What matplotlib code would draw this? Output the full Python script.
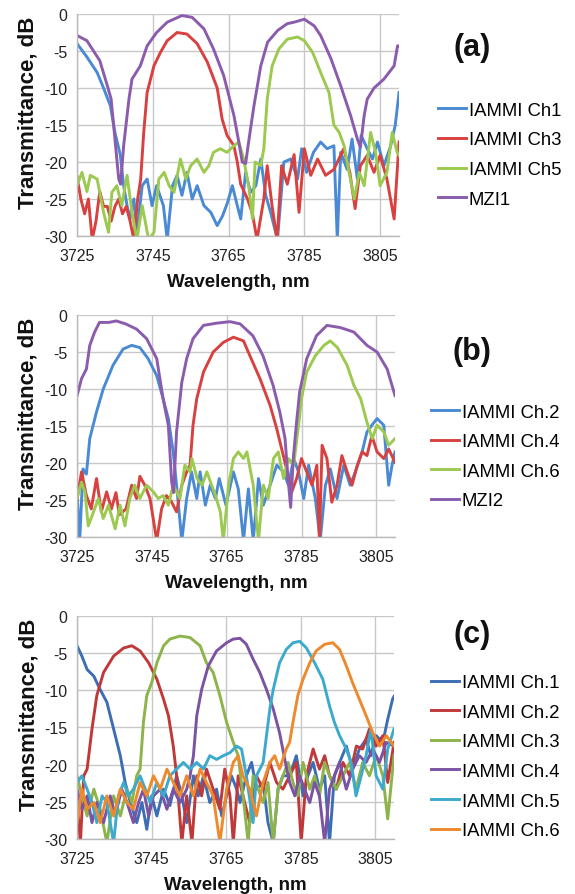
import matplotlib
matplotlib.use("Agg")
import matplotlib.pyplot as plt

plt.rcParams['font.family'] = ['Liberation Sans', 'DejaVu Sans']
plt.rcParams['axes.unicode_minus'] = False

# ---------------- Panel (a) ----------------
a_ch1_x = [3725, 3727.6, 3730.3, 3732, 3733.8, 3735, 3736.4, 3737.3, 3738.2, 3739, 3740, 3740.8, 3742.2, 3743.5, 3744.8, 3746, 3747.8, 3748.8, 3750.2, 3751.4, 3752.7, 3754, 3755.4, 3756.7, 3758.5, 3760.3, 3762, 3763.4, 3764.7, 3766, 3767.3, 3768.2, 3769.5, 3770.8, 3772.2, 3773.5, 3774.8, 3776.1, 3777.9, 3779.6, 3781.4, 3783.2, 3784.3, 3785.6, 3787.4, 3789.3, 3791, 3792.8, 3793.7, 3794.6, 3796.3, 3797.6, 3799, 3800, 3801.6, 3803, 3804.3, 3806, 3807.8, 3809, 3810]
a_ch1_y = [-4, -5.8, -7.9, -10, -12.4, -16, -19, -23.2, -25.9, -27.7, -25, -29.5, -23.2, -22.3, -25.9, -23.2, -25.9, -30.5, -23.2, -21.8, -24.5, -21.4, -25, -23.2, -25.9, -26.8, -28.6, -27.3, -25.5, -23.2, -25.9, -27.7, -21.4, -24.1, -23.2, -19.6, -24.5, -26.8, -30.5, -20, -19.6, -22.3, -18.2, -21.4, -18.7, -17.3, -18.2, -17.8, -30.5, -18.7, -21, -16.9, -22.3, -16.4, -18.2, -19.6, -17.3, -20.5, -17.8, -15, -10.6]

a_ch3_x = [3725, 3726, 3727, 3728, 3729, 3730, 3731, 3732, 3733, 3734, 3735, 3736, 3737, 3738, 3739, 3740, 3741, 3741.8, 3742.6, 3743.5, 3745.3, 3747, 3748.8, 3751.4, 3754, 3756.7, 3759.4, 3762, 3763.3, 3764.6, 3766.4, 3767.3, 3768.2, 3770, 3771.3, 3772.5, 3774.3, 3775.2, 3776.5, 3777.8, 3779, 3780.5, 3782.3, 3783.6, 3785, 3786.7, 3788.5, 3790.6, 3792.8, 3795.4, 3797, 3798.4, 3799.8, 3801.6, 3803.4, 3805, 3806.8, 3808.7, 3810]
a_ch3_y = [-22, -25, -27, -25, -30.5, -28, -24, -26, -26, -28, -26, -25, -27, -26, -28, -30.5, -25, -22.3, -16, -10.6, -7, -5.2, -3.6, -2.5, -2.7, -4, -6.5, -10, -14.2, -16.4, -17.8, -20, -23, -25, -27, -30.5, -25, -20.5, -26, -30.5, -20.5, -23, -19, -26.8, -18.2, -21.8, -19.6, -21.8, -21, -18.2, -21.4, -26.3, -20.5, -19.1, -21.4, -19.1, -22.3, -27.7, -17.3]

a_ch5_x = [3725, 3726.3, 3727.6, 3728.5, 3730.3, 3732, 3733.3, 3734.2, 3735.5, 3736.8, 3738.2, 3739.5, 3740.8, 3742.2, 3743.9, 3745.3, 3746.6, 3748, 3749.3, 3750.6, 3752.3, 3753.7, 3755, 3756.7, 3758.5, 3759.8, 3761, 3762.8, 3764.6, 3766.4, 3767.7, 3769, 3770.4, 3771.3, 3772, 3773.5, 3774.3, 3775.2, 3776.5, 3778.3, 3780.5, 3783.2, 3785, 3787.2, 3789.3, 3791.5, 3792.8, 3794.2, 3795.5, 3796.8, 3798.2, 3799.5, 3800.8, 3802.5, 3803.8, 3805, 3806.8, 3808.2, 3809.5, 3810]
a_ch5_y = [-23.2, -21.4, -24, -21.8, -22.3, -26.8, -29.5, -24.1, -23.2, -25.9, -21.8, -26.8, -30.5, -25.9, -30.5, -29.5, -22.3, -21.4, -23.2, -24.1, -19.6, -22.3, -20.5, -19.6, -21.4, -20.5, -18.7, -18.2, -18.7, -17.8, -17.3, -19.6, -23.6, -27.7, -20, -20.5, -18.2, -11.5, -7, -4.7, -3.4, -3.1, -3.6, -5.2, -7.9, -10.6, -15, -16, -17.8, -21.4, -25, -21.4, -23.2, -16, -18.7, -23.2, -21.4, -16, -18.7, -19.1]

a_mzi1_x = [3725, 3727.6, 3731, 3733, 3734, 3735, 3736, 3736.5, 3737.3, 3738.7, 3739.5, 3741.7, 3743.5, 3746, 3748.8, 3752.7, 3755.4, 3758.5, 3761, 3763.7, 3766.4, 3767.7, 3768.6, 3769.5, 3770.4, 3771.7, 3773.5, 3775.3, 3778, 3780.5, 3782.3, 3785, 3787.6, 3789.3, 3792, 3794.6, 3797.2, 3799, 3799.8, 3800.8, 3801.6, 3803.4, 3806, 3808.7, 3809.6, 3810]
a_mzi1_y = [-2.9, -3.6, -6.3, -9.7, -11.5, -16.9, -22.3, -23, -17.8, -11.5, -8.8, -7, -4.3, -2.5, -1.1, -0.2, -0.45, -2, -4.7, -8.3, -13.7, -17.3, -20, -20.2, -16.9, -12.4, -7, -3.8, -2.2, -1.3, -1.1, -0.7, -1.6, -2.9, -6, -9.7, -13.7, -16.9, -18, -13.7, -11.5, -10, -8.8, -7, -4.3, -4.3]

# ---------------- Panel (b) ----------------
b_ch2_x = [3725, 3725.7, 3726.6, 3727.5, 3728.4, 3730.2, 3732, 3734.6, 3737.3, 3739.6, 3741.8, 3744, 3746.3, 3748, 3749.4, 3750.7, 3751.6, 3753, 3754.3, 3755.6, 3757, 3757.9, 3759.3, 3760.6, 3762, 3763, 3764.8, 3766.8, 3768.1, 3769.5, 3770.8, 3772.1, 3773.5, 3774.8, 3776.6, 3778.4, 3780.2, 3781.5, 3782.9, 3784.2, 3785.6, 3786.9, 3788.7, 3790, 3791.4, 3792.7, 3794.5, 3796.3, 3798, 3799.4, 3801.2, 3802.5, 3803.8, 3805.2, 3807, 3808.3, 3809.2, 3810]
b_ch2_y = [-24, -30.5, -20.8, -21.5, -16.7, -13.1, -10, -6.8, -4.6, -4.1, -4.4, -5.9, -8.2, -11.3, -14, -18.5, -23, -30.5, -24.8, -21.2, -24.8, -21.2, -25.7, -23, -24.8, -22.1, -25.7, -21.2, -23.5, -30.5, -23.5, -30.5, -22.1, -25.7, -23, -20.3, -21.2, -23, -19.4, -21.2, -24.8, -20.3, -24.8, -30.5, -23, -20.8, -24.8, -20.3, -23, -21.2, -18.5, -15.8, -14.9, -14, -14.9, -23, -20.3, -18.5]

b_ch4_x = [3725, 3726.2, 3727.5, 3728.8, 3730.2, 3731.5, 3732.9, 3734.2, 3735.4, 3736.3, 3738.1, 3739.6, 3740.9, 3741.8, 3743.1, 3744.5, 3746.3, 3747.6, 3748.9, 3750.3, 3751.6, 3753, 3754.3, 3755.2, 3756, 3757, 3758.8, 3761.4, 3764.1, 3766.8, 3769.5, 3771.2, 3773.9, 3776.6, 3778.4, 3779.7, 3781, 3782.4, 3783.7, 3785, 3786.4, 3787.8, 3789.1, 3789.8, 3790.5, 3791.8, 3793.1, 3794.5, 3795.8, 3797.2, 3798.5, 3799.8, 3801.2, 3802.5, 3803.8, 3805.2, 3807, 3808.3, 3810]
b_ch4_y = [-24.8, -21.2, -24.4, -26.2, -22.1, -26.6, -23.9, -26.2, -24, -27, -26.2, -23, -24.8, -21.8, -23, -24.8, -30.5, -26.2, -24.4, -25.3, -26.6, -23, -21.2, -20.3, -14.9, -11.3, -7.7, -5, -3.7, -3, -3.5, -5.5, -8.6, -12.2, -15.4, -18.1, -20.8, -23.9, -22.1, -19.4, -21.2, -23, -20.3, -30.5, -17.6, -19.4, -25.3, -23, -19, -21.2, -23, -20.5, -18.5, -19, -16.3, -18.5, -19.4, -18.1, -19.9]

b_ch6_x = [3725, 3726.2, 3727.1, 3728, 3729.4, 3730.7, 3732, 3733.4, 3735.2, 3736.5, 3737.8, 3739.1, 3740.4, 3741.8, 3743.6, 3745.4, 3746.7, 3748, 3749.4, 3750.7, 3752.5, 3753.8, 3755.2, 3755.7, 3757.1, 3758.4, 3759.7, 3762, 3763.3, 3764.1, 3765.5, 3766.8, 3768.1, 3769.5, 3770.4, 3772.1, 3773.5, 3774.8, 3776.1, 3777.5, 3778.8, 3780.2, 3781.5, 3782.9, 3784.2, 3785, 3786.4, 3788.7, 3791, 3792.7, 3794.6, 3797.2, 3799, 3800.8, 3802.5, 3803.9, 3805.2, 3807, 3808.3, 3810]
b_ch6_y = [-24.8, -22.6, -23.9, -28.5, -26.6, -24.8, -27.5, -25.7, -28.9, -25.7, -28.5, -24.8, -23, -24.8, -23, -23.9, -24.8, -24.4, -25.7, -23, -24.8, -20.3, -21.2, -19.4, -22.1, -23, -21.2, -24.4, -26.6, -30.5, -23, -19.4, -18.5, -19.4, -18.5, -23, -30.5, -23, -24.8, -19.4, -18.5, -22.1, -19.4, -20.3, -14.9, -11.3, -7.7, -5.5, -4.1, -3.5, -4.4, -6.8, -9.5, -11.3, -14.5, -16.7, -14.9, -15.8, -17.6, -16.7]

b_mzi2_x = [3725, 3726.2, 3727.5, 3728.4, 3729.7, 3731, 3733.5, 3735.5, 3738, 3740.9, 3743.6, 3746.3, 3748, 3749.4, 3750.3, 3750.8, 3751.6, 3753, 3754.3, 3756, 3758.8, 3762.3, 3765.9, 3768.6, 3772, 3774.7, 3777.4, 3779.2, 3780.6, 3781.4, 3782.1, 3782.8, 3783.6, 3784.5, 3786.4, 3789, 3791.8, 3795.4, 3799, 3802.5, 3805.2, 3807.9, 3810]
b_mzi2_y = [-10.9, -8.6, -7.3, -4.1, -2.3, -1, -1, -0.8, -1.2, -1.9, -3.2, -5.9, -11.3, -14.9, -22.6, -24, -15.8, -9.1, -5.9, -3.2, -1.4, -1.1, -0.9, -1.2, -2.8, -5.5, -9.5, -13.1, -16.7, -22.1, -26, -19.4, -14.9, -10.4, -5.9, -2.8, -1.4, -1.7, -2.3, -4.1, -5, -7.3, -10.9]

# ---------------- Panel (c) ----------------
c_ch1_x = [3725, 3726.3, 3727.7, 3729.5, 3731.2, 3733, 3734.8, 3736.6, 3737.9, 3739.3, 3741, 3742.4, 3743.7, 3745, 3746.4, 3748.2, 3749.9, 3751.7, 3753.1, 3754.4, 3756.2, 3757.5, 3758.9, 3760.6, 3762.4, 3763.8, 3765.1, 3766.4, 3767.8, 3768.7, 3770.4, 3771.8, 3773.1, 3774.9, 3776.2, 3777.6, 3778.9, 3780.2, 3782, 3783.8, 3785.6, 3786.9, 3788.3, 3790, 3791.4, 3792.7, 3794, 3795.4, 3797.2, 3798.9, 3800.7, 3802.5, 3803.8, 3805.2, 3807, 3808.3, 3809.6, 3810]
c_ch1_y = [-4.0, -5.4, -7.2, -8.1, -9.9, -11.6, -15.2, -18.8, -22.4, -25.1, -27.8, -25.1, -28.7, -24.2, -26.9, -23.3, -25.5, -21.5, -24.2, -27.8, -21.5, -24.2, -21.5, -25.1, -23.3, -26.9, -24.2, -21.5, -23.3, -25.1, -21.5, -19.7, -23.3, -22.4, -27.8, -30.5, -23.3, -21.5, -21.5, -18.8, -24.2, -21.5, -19.7, -23.3, -21.5, -30.5, -21.5, -19.7, -17.5, -20.6, -17.9, -16.6, -18.8, -16.1, -17.0, -13.9, -11.2, -10.8]

c_ch2_x = [3725, 3725.9, 3726.8, 3727.7, 3729, 3730.3, 3732.1, 3734.8, 3737.5, 3739.7, 3741.9, 3744.2, 3746.4, 3748.2, 3749.5, 3750.8, 3751.7, 3753.1, 3754.4, 3755.8, 3757.1, 3758.4, 3759.7, 3761.5, 3763.3, 3764.6, 3766, 3766.9, 3768.2, 3769.5, 3771.3, 3773.1, 3774.9, 3776.7, 3778.5, 3780.2, 3782, 3783.8, 3785.1, 3786.5, 3788.3, 3790, 3791.4, 3792.7, 3794.5, 3796.3, 3798.1, 3799.9, 3801.6, 3803.4, 3805.2, 3807, 3808.3, 3810]
c_ch2_y = [-25.1, -30.5, -21.5, -20.6, -15.2, -10.7, -7.6, -5.4, -4.3, -4.0, -4.7, -6.3, -8.5, -11.2, -13.4, -17.5, -21.5, -30.5, -24.2, -30.5, -21.5, -24.2, -20.6, -23.3, -26.0, -20.6, -24.2, -30.5, -21.5, -24.2, -27.8, -21.5, -23.3, -19.7, -22.4, -23.3, -21.5, -19.7, -30.5, -21.5, -17.9, -20.6, -18.8, -21.5, -23.3, -19.7, -21.5, -17.5, -17.9, -15.2, -17.5, -16.1, -22.4, -17.0]

c_ch3_x = [3725, 3726.3, 3727.7, 3729.5, 3731.2, 3733, 3734.8, 3736.6, 3738.4, 3739.7, 3741, 3741.9, 3742.8, 3743.7, 3745, 3746.4, 3748.2, 3749.9, 3752.6, 3755.3, 3758, 3759.7, 3761.5, 3763.3, 3765.1, 3766.9, 3768.2, 3769.5, 3770.9, 3772.2, 3773.6, 3774.9, 3776.2, 3777.6, 3778.9, 3780.2, 3781.6, 3782.9, 3784.2, 3785.6, 3787.4, 3788.7, 3790, 3791.4, 3792.7, 3794.5, 3796.3, 3798.1, 3799.8, 3801.6, 3803.4, 3805.2, 3807, 3808.3, 3810]
c_ch3_y = [-21.5, -24.2, -26.9, -23.3, -26.0, -30.5, -24.2, -26.9, -23.3, -25.1, -21.5, -20.6, -14.3, -10.7, -9.0, -6.3, -4.0, -3.1, -2.7, -2.9, -4.0, -6.3, -7.6, -10.7, -14.3, -17.0, -18.8, -24.2, -30.5, -21.5, -23.3, -25.1, -22.4, -30.5, -23.3, -21.5, -19.7, -22.4, -24.2, -19.7, -23.3, -21.5, -24.2, -19.7, -21.5, -23.3, -21.5, -19.7, -23.3, -19.7, -21.5, -18.8, -21.5, -27.3, -18.8]

c_ch4_x = [3725, 3726.3, 3727.7, 3729, 3730.3, 3732.1, 3733.9, 3735.2, 3737, 3738.4, 3740.1, 3741.5, 3742.8, 3744.2, 3745.5, 3747.3, 3749.1, 3750.8, 3752.6, 3754.4, 3755.3, 3756.2, 3757.1, 3758.4, 3760.2, 3762.4, 3765.1, 3766.9, 3768.7, 3770.4, 3772.2, 3774, 3775.8, 3777.6, 3779.3, 3780.7, 3782, 3783.4, 3784.7, 3786, 3787.4, 3788.7, 3790, 3791.4, 3792.7, 3794, 3795.4, 3797.2, 3798.9, 3800.7, 3802.5, 3804.3, 3806.1, 3807.9, 3810]
c_ch4_y = [-23.3, -26.0, -24.2, -27.8, -25.1, -27.8, -24.2, -26.9, -23.3, -25.1, -27.8, -25.1, -23.3, -26.9, -24.2, -23.3, -26.0, -23.3, -25.1, -23.3, -21.5, -18.8, -13.4, -9.9, -6.7, -4.7, -3.6, -3.1, -3.0, -3.8, -5.8, -7.6, -9.9, -12.5, -15.7, -19.3, -22.4, -24.2, -21.5, -23.3, -25.1, -22.4, -24.2, -30.5, -23.3, -21.5, -19.7, -23.3, -20.6, -18.8, -19.7, -17.9, -19.7, -17.0, -17.5]

c_ch5_x = [3725, 3726.3, 3727.7, 3729, 3730.3, 3731.7, 3733, 3734.8, 3736.1, 3737.5, 3738.8, 3740.1, 3741.9, 3743.3, 3744.6, 3746.4, 3748.2, 3749.9, 3751.7, 3753.5, 3755.3, 3757.1, 3758.9, 3760.6, 3762.4, 3764.2, 3766, 3767.8, 3769.1, 3770.4, 3772.2, 3773.1, 3774.9, 3775.8, 3776.7, 3777.6, 3779.3, 3781.1, 3782.9, 3784.7, 3786.5, 3788.7, 3790.9, 3792.7, 3794, 3795.4, 3797.2, 3798.5, 3799.8, 3801.2, 3802.5, 3803.8, 3805.2, 3807, 3808.3, 3810]
c_ch5_y = [-22.4, -21.5, -23.3, -25.1, -27.8, -24.2, -25.1, -30.5, -24.2, -22.4, -24.2, -23.3, -21.5, -23.3, -25.1, -22.4, -24.2, -21.5, -20.6, -19.7, -20.6, -19.7, -20.6, -18.8, -19.3, -18.8, -18.4, -17.5, -17.9, -21.5, -27.8, -21.5, -19.7, -16.1, -12.5, -9.9, -6.3, -4.5, -3.6, -3.4, -4.3, -6.3, -8.5, -12.1, -14.3, -16.1, -17.9, -19.7, -24.2, -21.5, -18.8, -15.2, -21.5, -23.3, -17.9, -15.2]

c_ch6_x = [3725, 3726.3, 3727.7, 3729.5, 3731.2, 3733, 3734.8, 3736.6, 3738.4, 3740.1, 3741.9, 3743.7, 3745.5, 3747.3, 3749.1, 3750.8, 3752.6, 3754.4, 3756.2, 3758, 3759.7, 3761.5, 3763.3, 3765.1, 3766.9, 3768.2, 3769.5, 3771.3, 3773.1, 3774.9, 3776.7, 3778, 3779.3, 3781.1, 3782, 3782.9, 3784.2, 3785.6, 3787.4, 3789.1, 3791.4, 3793.6, 3795.4, 3797.2, 3798.9, 3800.7, 3802.5, 3804.3, 3806.1, 3807.9, 3810]
c_ch6_y = [-27.8, -23.3, -26.0, -25.1, -27.8, -24.2, -26.9, -23.3, -25.1, -26.0, -22.4, -24.2, -21.5, -23.3, -20.6, -22.4, -24.2, -21.5, -24.2, -20.6, -22.4, -24.2, -30.5, -23.3, -19.7, -18.8, -21.5, -23.3, -26.9, -22.4, -19.7, -18.8, -20.6, -17.9, -17.0, -14.3, -10.7, -8.5, -6.3, -4.7, -3.8, -3.6, -4.5, -6.7, -9.0, -11.2, -13.4, -15.7, -17.5, -16.1, -17.5]

x_ticks = [3725, 3745, 3765, 3785, 3805]
y_ticks = [0, -5, -10, -15, -20, -25, -30]
x_label = "Wavelength, nm"
y_label = "Transmittance, dB"

# colours
A_BLUE, A_RED, A_GREEN, A_PURPLE = "#4a8ad4", "#d8413f", "#9cc94f", "#8b5cad"
C_BLUE, C_RED, C_GREEN, C_PURPLE, C_CYAN, C_ORANGE = "#3d6db5", "#c0393a", "#8db34b", "#7b53a2", "#3caacd", "#ee8a2e"

panels = [
    dict(pos=[0.134, 0.7352, 0.560, 0.248], label="(a)", lab_xy=(0.821, 0.946),
         leg_xy=(0.762, 0.885),
         series=[(a_ch1_x, a_ch1_y, A_BLUE, "IAMMI Ch1"),
                 (a_ch3_x, a_ch3_y, A_RED, "IAMMI Ch3"),
                 (a_ch5_x, a_ch5_y, A_GREEN, "IAMMI Ch5"),
                 (a_mzi1_x, a_mzi1_y, A_PURPLE, "MZI1")]),
    dict(pos=[0.134, 0.3989, 0.553, 0.248], label="(b)", lab_xy=(0.821, 0.6067),
         leg_xy=(0.750, 0.548),
         series=[(b_ch2_x, b_ch2_y, A_BLUE, "IAMMI Ch.2"),
                 (b_ch4_x, b_ch4_y, A_RED, "IAMMI Ch.4"),
                 (b_ch6_x, b_ch6_y, A_GREEN, "IAMMI Ch.6"),
                 (b_mzi2_x, b_mzi2_y, A_PURPLE, "MZI2")]),
    dict(pos=[0.134, 0.0615, 0.5513, 0.2491], label="(c)", lab_xy=(0.821, 0.2905),
         leg_xy=(0.750, 0.2455),
         series=[(c_ch1_x, c_ch1_y, C_BLUE, "IAMMI Ch.1"),
                 (c_ch2_x, c_ch2_y, C_RED, "IAMMI Ch.2"),
                 (c_ch3_x, c_ch3_y, C_GREEN, "IAMMI Ch.3"),
                 (c_ch4_x, c_ch4_y, C_PURPLE, "IAMMI Ch.4"),
                 (c_ch5_x, c_ch5_y, C_CYAN, "IAMMI Ch.5"),
                 (c_ch6_x, c_ch6_y, C_ORANGE, "IAMMI Ch.6")]),
]

fig = plt.figure(figsize=(5.75, 8.95), dpi=100)

for p in panels:
    ax = fig.add_axes(p["pos"])
    handles = []
    for xs, ys, col, name in p["series"]:
        h, = ax.plot(xs, ys, color=col, lw=2.1, label=name, solid_joinstyle="round")
        handles.append(h)
    ax.set_xlim(3725, 3810)
    ax.set_ylim(-30, 0)
    ax.set_xticks(x_ticks)
    ax.set_yticks(y_ticks)
    ax.grid(True, color="#c8c8c8", lw=1.0)
    ax.set_axisbelow(True)
    for s in ["top", "right"]:
        ax.spines[s].set_visible(False)
    for s in ["left", "bottom"]:
        ax.spines[s].set_color("#b8b8b8")
        ax.spines[s].set_linewidth(1.0)
    ax.tick_params(length=0, labelsize=11.5, colors="#222222")
    ax.tick_params(axis="x", pad=9)
    ax.tick_params(axis="y", pad=7)
    ax.set_xlabel(x_label, fontsize=13.5, fontweight="bold", color="#111111")
    ax.set_ylabel(y_label, fontsize=16, fontweight="bold", color="#111111")
    ax.xaxis.set_label_coords(0.5, -0.165)
    ax.yaxis.set_label_coords(-0.12, 0.56)
    fig.text(p["lab_xy"][0], p["lab_xy"][1], p["label"], fontsize=22, fontweight="bold",
             ha="center", va="center", color="#111111")
    fig.legend(handles=handles, loc="upper left", bbox_to_anchor=p["leg_xy"],
               bbox_transform=fig.transFigure, frameon=False, fontsize=13.3,
               handlelength=1.5, handletextpad=0.15, labelspacing=0.68,
               borderpad=0, borderaxespad=0)

fig.savefig("out.png", dpi=100)
